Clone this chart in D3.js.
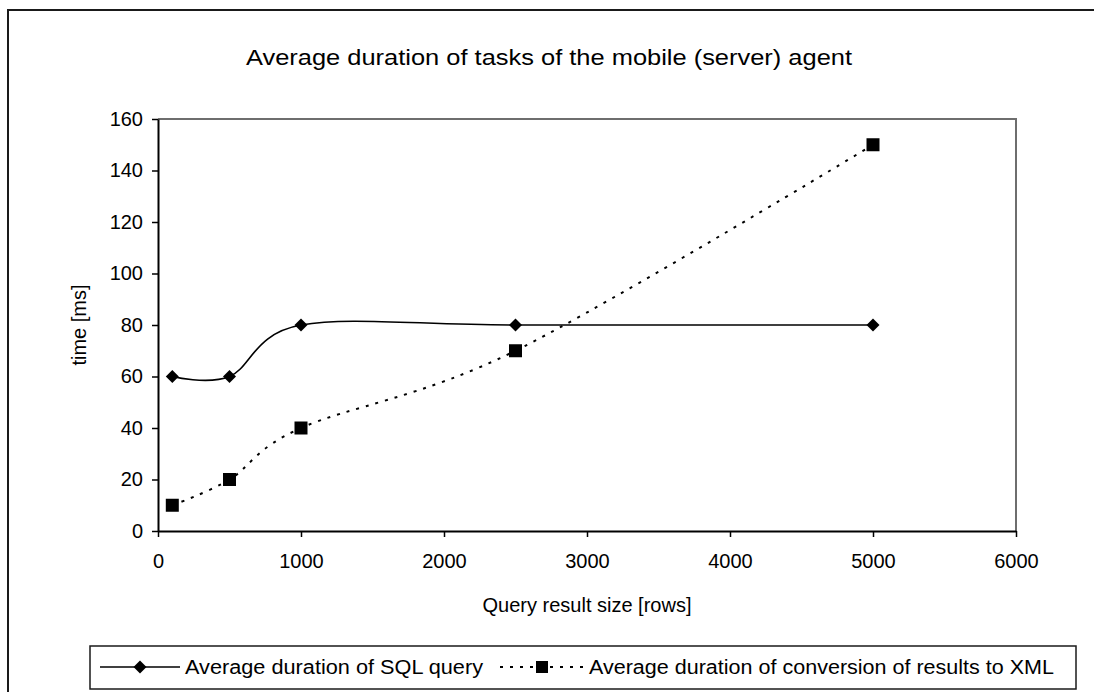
<!DOCTYPE html>
<html>
<head>
<meta charset="utf-8">
<script src="https://cdn.jsdelivr.net/npm/d3@7"></script>
<style>
  html, body { margin: 0; padding: 0; background: #ffffff; }
  svg text { font-family: "Liberation Sans", Arial, sans-serif; fill: #000000; }
</style>
</head>
<body>
<div id="chart"></div>
<script>
// données
const rowCounts = [100, 500, 1000, 2500, 5000];
const sqlQueryMs = [60, 60, 80, 80, 80];
const xmlConversionMs = [10, 20, 40, 70, 150];
const xTicks = [0, 1000, 2000, 3000, 4000, 5000, 6000];
const yTicks = [0, 20, 40, 60, 80, 100, 120, 140, 160];
const seriesNames = ["Average duration of SQL query", "Average duration of conversion of results to XML"];

const chartTitle = "Average duration of tasks of the mobile (server) agent";
const xTitle = "Query result size [rows]";
const yTitle = "time [ms]";

//---------------------------------------------------------------------------------------

// Création du canevas SVG
const width = 1094;
const height = 692;
const plot = { left: 158, top: 119, right: 1016, bottom: 531 };
const font = "Liberation Sans, Arial, sans-serif";

const svg = d3.select("#chart")
  .append("svg")
  .attr("width", width)
  .attr("height", height)
  .attr("viewBox", [0, 0, width, height]);

// cadre extérieur (coupé à droite et en bas)
svg.append("rect")
  .attr("x", 8).attr("y", 10)
  .attr("width", width + 20).attr("height", height + 20)
  .attr("fill", "none")
  .attr("stroke", "#1a1a1a")
  .attr("stroke-width", 2);

// titre
svg.append("text")
  .attr("x", 549).attr("y", 65)
  .attr("text-anchor", "middle")
  .attr("font-size", 22)
  .attr("textLength", 606)
  .attr("lengthAdjust", "spacingAndGlyphs")
  .text(chartTitle);

//---------------------------------------------------------------------------------------

// échelles
const x = d3.scaleLinear().domain([0, 6000]).range([plot.left, plot.right]);
const y = d3.scaleLinear().domain([0, 160]).range([plot.bottom, plot.top]);

// zone de tracé : bordure haute et droite en gris
svg.append("path")
  .attr("d", `M${plot.left},${plot.top}H${plot.right}V${plot.bottom}`)
  .attr("fill", "none")
  .attr("stroke", "#6e6e6e")
  .attr("stroke-width", 2);

// axe Y
const yAxis = svg.append("g")
  .attr("transform", `translate(${plot.left},0)`)
  .call(d3.axisLeft(y).tickValues(yTicks).tickFormat(d3.format("d")).tickSize(6).tickPadding(9).tickSizeOuter(0));
yAxis.select(".domain").attr("stroke", "#000").attr("stroke-width", 2);
yAxis.selectAll(".tick line").attr("stroke", "#000").attr("stroke-width", 1.5);
yAxis.selectAll(".tick text").attr("font-family", font).attr("font-size", 20).attr("fill", "#000");

// axe X
const xAxis = svg.append("g")
  .attr("transform", `translate(0,${plot.bottom})`)
  .call(d3.axisBottom(x).tickValues(xTicks).tickFormat(d3.format("d")).tickSize(6).tickPadding(17).tickSizeOuter(0));
xAxis.select(".domain").attr("stroke", "#000").attr("stroke-width", 2);
xAxis.selectAll(".tick line").attr("stroke", "#000").attr("stroke-width", 1.5);
xAxis.selectAll(".tick text").attr("font-family", font).attr("font-size", 20).attr("fill", "#000");

// titres des axes
svg.append("text")
  .attr("x", (plot.left + plot.right) / 2).attr("y", 612)
  .attr("text-anchor", "middle")
  .attr("font-size", 20)
  .text(xTitle);

svg.append("text")
  .attr("transform", `translate(86,${(plot.top + plot.bottom) / 2}) rotate(-90)`)
  .attr("text-anchor", "middle")
  .attr("font-size", 20)
  .text(yTitle);

//---------------------------------------------------------------------------------------

// courbes lissées
const line = d3.line()
  .x(d => x(d[0]))
  .y(d => y(d[1]))
  .curve(d3.curveCardinal.tension(0));

const sqlData = rowCounts.map((r, i) => [r, sqlQueryMs[i]]);
const xmlData = rowCounts.map((r, i) => [r, xmlConversionMs[i]]);

svg.append("path")
  .datum(sqlData)
  .attr("d", line)
  .attr("fill", "none")
  .attr("stroke", "#000")
  .attr("stroke-width", 1.6);

svg.append("path")
  .datum(xmlData)
  .attr("d", line)
  .attr("fill", "none")
  .attr("stroke", "#000")
  .attr("stroke-width", 2)
  .attr("stroke-dasharray", "3,7");

// marqueurs
const diamond = s => `M0,${-s}L${s},0L0,${s}L${-s},0Z`;

svg.append("g").selectAll("path")
  .data(sqlData)
  .join("path")
  .attr("transform", d => `translate(${x(d[0])},${y(d[1])})`)
  .attr("d", diamond(6.5))
  .attr("fill", "#000");

svg.append("g").selectAll("rect")
  .data(xmlData)
  .join("rect")
  .attr("x", d => x(d[0]) - 6.5)
  .attr("y", d => y(d[1]) - 6.5)
  .attr("width", 13).attr("height", 13)
  .attr("fill", "#000");

//---------------------------------------------------------------------------------------

// Légende
const legend = svg.append("g");
const legY = 667;

legend.append("rect")
  .attr("x", 90).attr("y", 646)
  .attr("width", 986).attr("height", 43)
  .attr("fill", "#fff")
  .attr("stroke", "#1a1a1a")
  .attr("stroke-width", 1.5);

legend.append("line")
  .attr("x1", 100).attr("x2", 180)
  .attr("y1", legY).attr("y2", legY)
  .attr("stroke", "#000").attr("stroke-width", 1.6);
legend.append("path")
  .attr("transform", `translate(140,${legY})`)
  .attr("d", diamond(6.5))
  .attr("fill", "#000");
legend.append("text")
  .attr("x", 185).attr("y", legY + 7)
  .attr("font-size", 20)
  .attr("textLength", 298)
  .attr("lengthAdjust", "spacingAndGlyphs")
  .text(seriesNames[0]);

legend.append("line")
  .attr("x1", 500).attr("x2", 584)
  .attr("y1", legY).attr("y2", legY)
  .attr("stroke", "#000").attr("stroke-width", 2)
  .attr("stroke-dasharray", "3,7");
legend.append("rect")
  .attr("x", 542 - 6).attr("y", legY - 6)
  .attr("width", 12).attr("height", 12)
  .attr("fill", "#000");
legend.append("text")
  .attr("x", 589).attr("y", legY + 7)
  .attr("font-size", 20)
  .attr("textLength", 465)
  .attr("lengthAdjust", "spacingAndGlyphs")
  .text(seriesNames[1]);
</script>
</body>
</html>
